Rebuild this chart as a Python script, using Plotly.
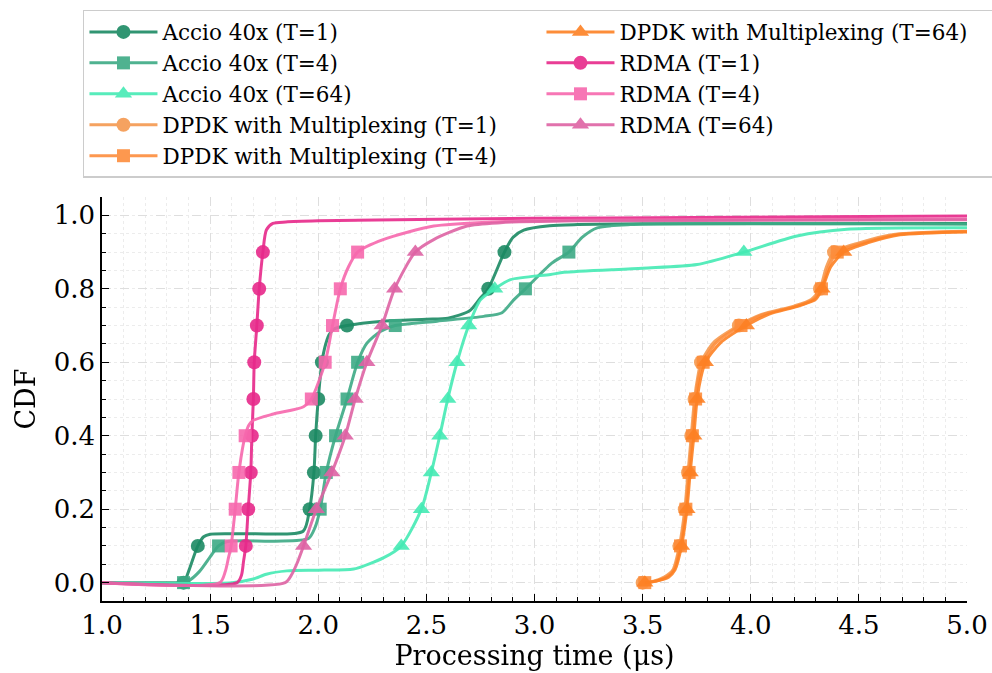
import plotly.graph_objects as go

# ---------------- data ----------------
levels_all = [0.0, 0.1, 0.2, 0.3, 0.4, 0.5, 0.6, 0.7, 0.8, 0.9]
levels_no0 = [0.1, 0.2, 0.3, 0.4, 0.5, 0.6, 0.7, 0.8, 0.9]

# Accio 40x (T=1)
a1_x = [1.0, 1.36, 1.38, 1.40, 1.443, 1.47, 1.50, 1.70, 1.93, 1.96, 1.98, 1.988, 2.0, 2.017,
        2.03, 2.05, 2.071, 2.133, 2.3, 2.5, 2.60, 2.70, 2.75, 2.786, 2.861, 2.90, 2.95, 3.07, 3.2, 3.5, 5.0]
a1_y = [0, 0, 0.002, 0.03, 0.1, 0.125, 0.132, 0.133, 0.14, 0.2, 0.3, 0.4, 0.5, 0.6,
        0.64, 0.675, 0.69, 0.70, 0.712, 0.717, 0.72, 0.74, 0.775, 0.8, 0.9, 0.94, 0.96, 0.972, 0.975, 0.977, 0.978]
a1_mx = [1.377, 1.443, 1.96, 1.98, 1.988, 2.0, 2.017, 2.133, 2.786, 2.861]

# Accio 40x (T=4)
a4_x = [1.0, 1.36, 1.40, 1.45, 1.50, 1.539, 1.58, 1.80, 1.955, 1.985, 2.009, 2.037, 2.08, 2.133,
        2.182, 2.225, 2.287, 2.356, 2.55, 2.765, 2.85, 2.904, 2.958, 3.08, 3.159, 3.22, 3.29, 3.444, 5.0]
a4_y = [0, 0, 0.005, 0.03, 0.07, 0.1, 0.112, 0.113, 0.12, 0.15, 0.2, 0.3, 0.4, 0.5,
        0.6, 0.652, 0.684, 0.70, 0.712, 0.725, 0.735, 0.77, 0.8, 0.87, 0.9, 0.94, 0.966, 0.975, 0.976]
a4_mx = [1.377, 1.539, 2.009, 2.037, 2.08, 2.133, 2.182, 2.356, 2.958, 3.159]

# Accio 40x (T=64)
a64_x = [1.0, 1.60, 1.70, 1.76, 1.855, 2.0, 2.164, 2.303, 2.384, 2.477, 2.523, 2.562, 2.599, 2.642,
         2.696, 2.75, 2.816, 2.889, 3.074, 3.136, 3.5, 3.752, 3.968, 4.214, 4.445, 5.0]
a64_y = [0, 0, 0.01, 0.023, 0.032, 0.034, 0.037, 0.068, 0.1, 0.2, 0.3, 0.4, 0.5, 0.6,
         0.7, 0.77, 0.8, 0.825, 0.839, 0.845, 0.856, 0.866, 0.9, 0.944, 0.962, 0.966]
a64_mx = [2.384, 2.477, 2.523, 2.562, 2.599, 2.642, 2.696, 2.816, 3.968]

# DPDK with Multiplexing (T=1)
d1_x = [3.50, 3.55, 3.60, 3.64, 3.67, 3.695, 3.71, 3.725, 3.74, 3.755, 3.77, 3.83, 3.945, 4.05,
        4.20, 4.28, 4.32, 4.35, 4.385, 4.50, 4.66, 5.0]
d1_y = [0, 0.004, 0.015, 0.035, 0.1, 0.2, 0.3, 0.4, 0.5, 0.56, 0.6, 0.655, 0.7, 0.73,
        0.753, 0.771, 0.8, 0.86, 0.9, 0.925, 0.948, 0.957]
d1_mx = [3.50, 3.67, 3.695, 3.71, 3.725, 3.74, 3.77, 3.945, 4.32, 4.385]

# DPDK with Multiplexing (T=4)
d4_x = [3.51, 3.56, 3.61, 3.645, 3.675, 3.70, 3.715, 3.73, 3.745, 3.76, 3.78, 3.84, 3.955, 4.06,
        4.214, 4.29, 4.327, 4.36, 4.40, 4.52, 4.676, 5.0]
d4_y = [0, 0.004, 0.015, 0.035, 0.1, 0.2, 0.3, 0.4, 0.5, 0.56, 0.6, 0.653, 0.7, 0.73,
        0.753, 0.771, 0.8, 0.86, 0.9, 0.925, 0.948, 0.956]
d4_mx = [3.51, 3.675, 3.70, 3.715, 3.73, 3.745, 3.78, 3.955, 4.327, 4.40]

# DPDK with Multiplexing (T=64)
d64_x = [3.51, 3.56, 3.62, 3.65, 3.68, 3.705, 3.72, 3.737, 3.752, 3.77, 3.79, 3.86, 3.98, 4.08,
         4.22, 4.30, 4.33, 4.37, 4.43, 4.54, 4.69, 5.0]
d64_y = [0, 0.004, 0.015, 0.035, 0.1, 0.2, 0.3, 0.4, 0.5, 0.56, 0.6, 0.653, 0.7, 0.73,
         0.753, 0.771, 0.8, 0.86, 0.9, 0.925, 0.947, 0.955]
d64_mx = [3.51, 3.68, 3.705, 3.72, 3.737, 3.752, 3.79, 3.98, 4.33, 4.43]

# RDMA (T=1)
r1_x = [1.0, 1.625, 1.645, 1.655, 1.665, 1.676, 1.688, 1.693, 1.70, 1.704, 1.716, 1.727, 1.744,
        1.76, 1.79, 1.85, 2.0, 3.0, 5.0]
r1_y = [0, 0, 0.02, 0.06, 0.1, 0.2, 0.3, 0.4, 0.5, 0.6, 0.7, 0.8, 0.9,
        0.96, 0.978, 0.982, 0.985, 0.992, 0.998]
r1_mx = [1.665, 1.676, 1.688, 1.693, 1.70, 1.704, 1.716, 1.727, 1.744]

# RDMA (T=4)
r4_x = [1.0, 1.545, 1.57, 1.585, 1.597, 1.616, 1.633, 1.662, 1.68, 1.70, 1.793, 1.932, 1.968,
        2.032, 2.066, 2.102, 2.14, 2.182, 2.30, 2.534, 2.8, 3.2, 5.0]
r4_y = [0, 0, 0.03, 0.068, 0.1, 0.2, 0.3, 0.4, 0.43, 0.442, 0.459, 0.479, 0.5,
        0.6, 0.7, 0.8, 0.86, 0.9, 0.934, 0.971, 0.982, 0.987, 0.99]
r4_mx = [1.597, 1.616, 1.633, 1.662, 1.968, 2.032, 2.066, 2.102, 2.182]

# RDMA (T=64)
r64_x = [1.0, 1.847, 1.878, 1.90, 1.932, 1.991, 2.063, 2.125, 2.171, 2.225, 2.295, 2.353, 2.449,
         2.534, 2.688, 2.843, 3.2, 5.0]
r64_y = [0, 0, 0.023, 0.05, 0.1, 0.2, 0.3, 0.4, 0.5, 0.6, 0.7, 0.8, 0.9,
         0.934, 0.971, 0.98, 0.985, 0.988]
r64_mx = [1.932, 1.991, 2.063, 2.125, 2.171, 2.225, 2.295, 2.353, 2.449]

x_ticks = [1.0, 1.5, 2.0, 2.5, 3.0, 3.5, 4.0, 4.5, 5.0]
y_ticks = [0.0, 0.2, 0.4, 0.6, 0.8, 1.0]

series = [
    ("Accio 40x (T=1)", a1_x, a1_y, a1_mx, levels_all, "#1b8a63", "circle", 14),
    ("Accio 40x (T=4)", a4_x, a4_y, a4_mx, levels_all, "#3daa85", "square", 13),
    ("Accio 40x (T=64)", a64_x, a64_y, a64_mx, levels_no0, "#45eab4", "triangle-up", 15),
    ("DPDK with Multiplexing (T=1)", d1_x, d1_y, d1_mx, levels_all, "#f5994f", "circle", 14),
    ("DPDK with Multiplexing (T=4)", d4_x, d4_y, d4_mx, levels_all, "#fd8d3c", "square", 13),
    ("DPDK with Multiplexing (T=64)", d64_x, d64_y, d64_mx, levels_all, "#fd8124", "triangle-up", 15),
    ("RDMA (T=1)", r1_x, r1_y, r1_mx, levels_no0, "#e7298a", "circle", 14),
    ("RDMA (T=4)", r4_x, r4_y, r4_mx, levels_no0, "#f768ad", "square", 13),
    ("RDMA (T=64)", r64_x, r64_y, r64_mx, levels_no0, "#de63a4", "triangle-up", 15),
]

FONT = "DejaVu Serif"
fig = go.Figure()

for name, xs, ys, mx, my, col, sym, ms in series:
    fig.add_trace(go.Scatter(x=xs, y=ys, mode="lines", showlegend=False,
                             line=dict(color=col, width=3, shape="spline", smoothing=0.7),
                             opacity=0.9, hoverinfo="skip"))
    fig.add_trace(go.Scatter(x=mx, y=my[:len(mx)], mode="markers", showlegend=False,
                             marker=dict(color=col, symbol=sym, size=ms, line=dict(width=0)),
                             opacity=0.9))

# legend entries, ordered row-major so the 2-column legend reads column-major
legend_order = [0, 5, 1, 6, 2, 7, 3, 8, 4]
for i in legend_order:
    name, xs, ys, mx, my, col, sym, ms = series[i]
    fig.add_trace(go.Scatter(x=[None], y=[None], mode="lines+markers", name=name,
                             line=dict(color=col, width=3),
                             marker=dict(color=col, symbol=sym, size=ms, line=dict(width=0)),
                             opacity=0.9))

axis_common = dict(
    showline=True, linecolor="black", linewidth=1.5, mirror=False,
    ticks="inside", ticklen=7, tickwidth=1.3, tickcolor="black",
    showgrid=True, gridcolor="#dedede", gridwidth=1, griddash="dash",
    zeroline=False,
    tickfont=dict(family=FONT, size=26, color="black"),
)

fig.update_layout(
    width=992, height=673,
    margin=dict(l=102, r=25, t=197, b=72, autoexpand=False),
    paper_bgcolor="white", plot_bgcolor="white",
    font=dict(family=FONT, color="black"),
    xaxis=dict(range=[1.0, 5.0], tickvals=x_ticks, ticktext=[f"{v:.1f}" for v in x_ticks],
               title=dict(text="Processing time (μs)", font=dict(family=FONT, size=27), standoff=5),
               minor=dict(dtick=0.1, ticks="inside", ticklen=4, tickcolor="black", tickwidth=1,
                          showgrid=True, gridcolor="#ececec", griddash="dot", gridwidth=1),
               **axis_common),
    yaxis=dict(range=[-0.05, 1.05], tickvals=y_ticks, ticktext=[f"{v:.1f}" for v in y_ticks],
               title=dict(text="CDF", font=dict(family=FONT, size=27), standoff=10),
               minor=dict(dtick=0.05, ticks="inside", ticklen=4, tickcolor="black", tickwidth=1,
                          showgrid=True, gridcolor="#ececec", griddash="dot", gridwidth=1),
               **axis_common),
    legend=dict(orientation="h", x=-0.022, y=1.463, xanchor="left", yanchor="top",
                bgcolor="white", bordercolor="#cccccc", borderwidth=1.5,
                font=dict(family=FONT, size=21.5, color="black"),
                entrywidth=374, entrywidthmode="pixels", itemwidth=68,
                traceorder="normal"),
)

fig.write_html("out.html", config={"displayModeBar": False},
               post_script="document.body.style.margin='0';document.body.style.overflow='hidden';")
